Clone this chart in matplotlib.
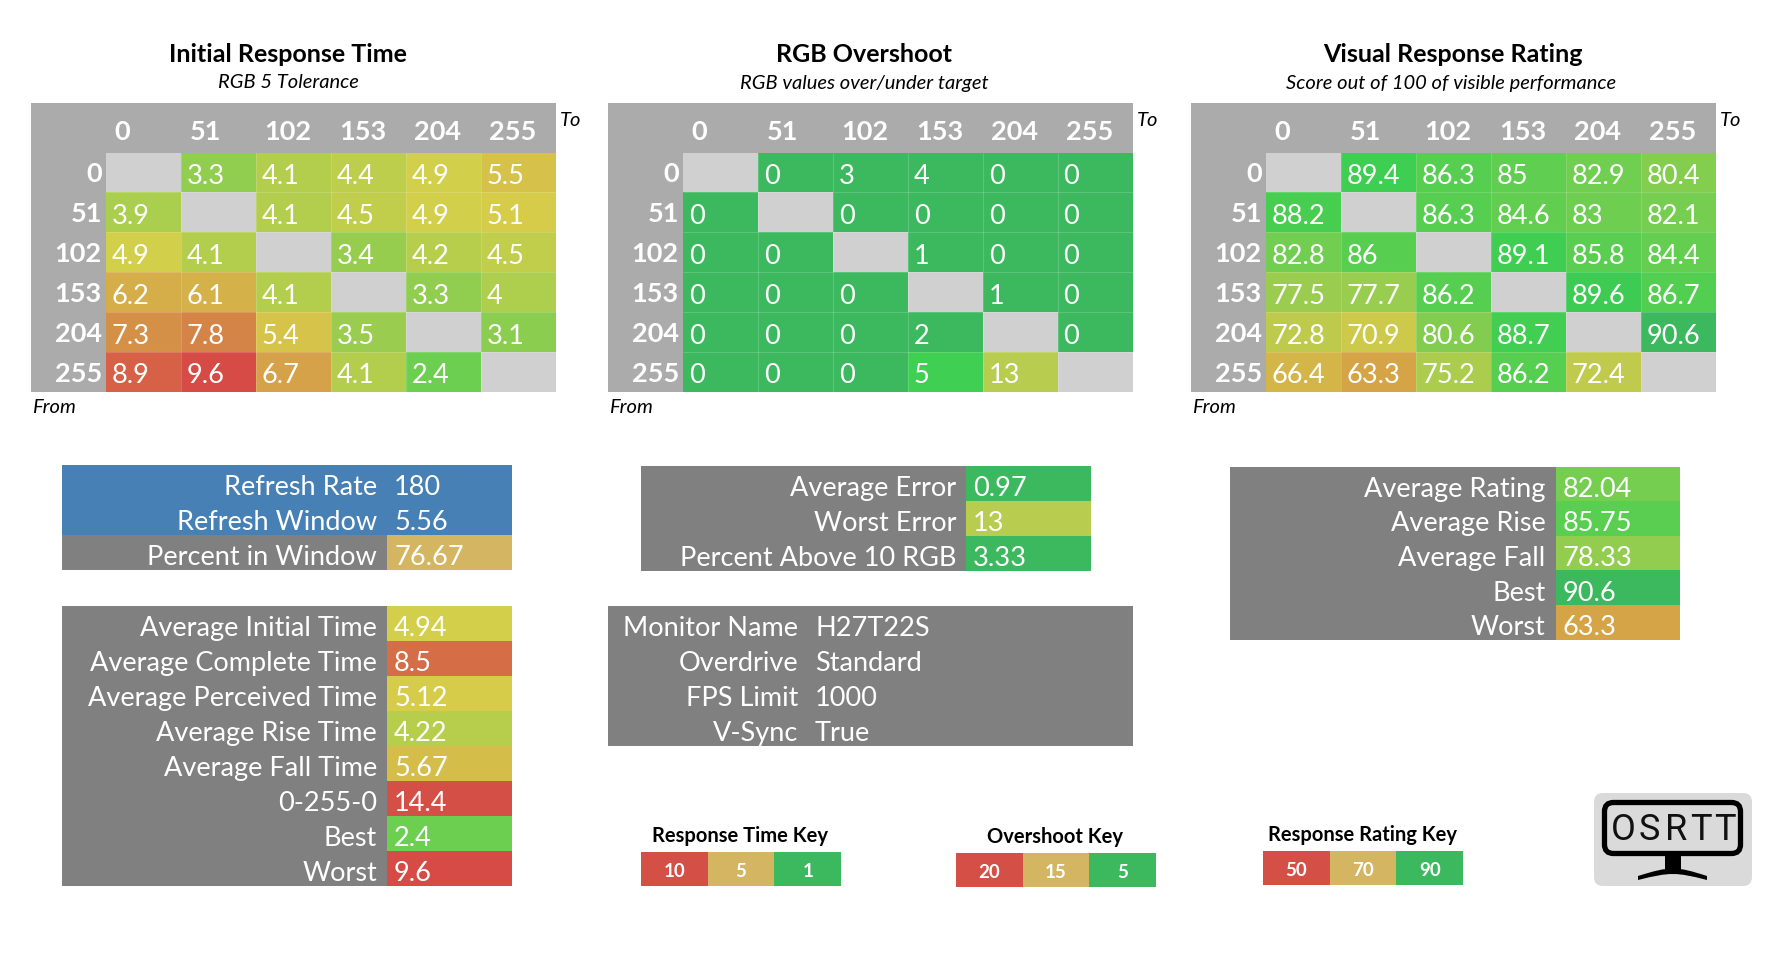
import numpy as np
import matplotlib as mpl
mpl.use('Agg')
import matplotlib.pyplot as plt
from matplotlib.colors import LinearSegmentedColormap, Normalize
from matplotlib.patches import Rectangle, FancyBboxPatch, PathPatch
from matplotlib.path import Path

plt.rcParams['font.family'] = ['Lato', 'DejaVu Sans']

levels = [0, 51, 102, 153, 204, 255]
nan = np.nan

initial_time = [[nan, 3.3, 4.1, 4.4, 4.9, 5.5],
                [3.9, nan, 4.1, 4.5, 4.9, 5.1],
                [4.9, 4.1, nan, 3.4, 4.2, 4.5],
                [6.2, 6.1, 4.1, nan, 3.3, 4],
                [7.3, 7.8, 5.4, 3.5, nan, 3.1],
                [8.9, 9.6, 6.7, 4.1, 2.4, nan]]
overshoot = [[nan, 0, 3, 4, 0, 0],
             [0, nan, 0, 0, 0, 0],
             [0, 0, nan, 1, 0, 0],
             [0, 0, 0, nan, 1, 0],
             [0, 0, 0, 2, nan, 0],
             [0, 0, 0, 5, 13, nan]]
rating = [[nan, 89.4, 86.3, 85, 82.9, 80.4],
          [88.2, nan, 86.3, 84.6, 83, 82.1],
          [82.8, 86, nan, 89.1, 85.8, 84.4],
          [77.5, 77.7, 86.2, nan, 89.6, 86.7],
          [72.8, 70.9, 80.6, 88.7, nan, 90.6],
          [66.4, 63.3, 75.2, 86.2, 72.4, nan]]

refresh_labels = ['Refresh Rate', 'Refresh Window']
refresh_values = [180, 5.56]
window_label = 'Percent in Window'
window_value = 76.67

time_labels = ['Average Initial Time', 'Average Complete Time', 'Average Perceived Time',
               'Average Rise Time', 'Average Fall Time', '0-255-0', 'Best', 'Worst']
time_values = [4.94, 8.5, 5.12, 4.22, 5.67, 14.4, 2.4, 9.6]

error_labels = ['Average Error', 'Worst Error', 'Percent Above 10 RGB']
error_values = [0.97, 13, 3.33]

monitor_labels = ['Monitor Name', 'Overdrive', 'FPS Limit', 'V-Sync']
monitor_values = ['H27T22S', 'Standard', '1000', 'True']

rating_labels = ['Average Rating', 'Average Rise', 'Average Fall', 'Best', 'Worst']
rating_values = [82.04, 85.75, 78.33, 90.6, 63.3]

time_key = [10, 5, 1]
overshoot_key = [20, 15, 5]
rating_key = [50, 70, 90]

RED = '#D44F46'
TAN = '#D4B562'
GREEN = '#3CB95F'
HEAD = '#ABABAB'
DARK = '#808080'
BLUE = '#4680B4'
DIAG = '#D0D0D0'


def make_scale(nodes):
    lo, hi = nodes[0][0], nodes[-1][0]
    cmap = LinearSegmentedColormap.from_list(
        'scale', [((v - lo) / (hi - lo), c) for v, c in nodes]).with_extremes(bad=DIAG)
    return cmap, Normalize(lo, hi, clip=True)


time_scale = make_scale([(1, GREEN), (1.25, '#3FCF52'), (2.4, '#6ECF50'), (3.3, '#93CD4F'), (5, '#D6CF4A'),
                         (6, '#D5B44A'), (7.8, '#D58347'), (9.6, '#D64B45'), (14.4, RED)])
over_scale = make_scale([(0, GREEN), (4, GREEN), (5, '#3FCF52'), (13, '#B8CC50'),
                         (15, '#D6C44C'), (20, RED)])
rate_scale = make_scale([(50, RED), (63.3, '#D5A546'), (70, '#D2C94B'), (77.5, '#9ACD4F'),
                         (86, '#58CE50'), (89.5, '#3DCE52'), (90.6, GREEN)])

fig = plt.figure(figsize=(17.84, 9.62), dpi=100)
ax = fig.add_axes([0, 0, 1, 1])
ax.set_xlim(0, 1784)
ax.set_ylim(962, 0)
ax.axis('off')

VALUE_SIZE = 19.5
HEAD_SIZE = 19.5


def rect(x0, y0, x1, y1, color):
    ax.add_patch(Rectangle((x0, y0), x1 - x0, y1 - y0, facecolor=color, edgecolor='none'))


def matrix(x0, x1, title, sub, title_x, sub_x, values, scale):
    top, head_bottom, bottom = 103.5, 153.5, 393
    col0 = x0 + 75.4
    rect(x0, top, x1, bottom, HEAD)
    xe = np.linspace(col0, x1, 7)
    ye = np.linspace(head_bottom, bottom, 7)
    ax.pcolormesh(xe, ye, np.ma.masked_invalid(values), cmap=scale[0], norm=scale[1],
                  edgecolors='none', antialiased=False)
    ax.vlines(xe[1:-1], head_bottom, bottom, color='w', alpha=0.16, linewidth=0.8)
    ax.hlines(ye[1:-1], col0, x1, color='w', alpha=0.16, linewidth=0.8)
    ax.text(title_x, 61.5, title, fontsize=18, fontweight='bold', ha='center', va='baseline')
    ax.text(sub_x, 88.5, sub, fontsize=14.5, style='italic', ha='center', va='baseline')
    ax.text(x1 + 3.5, 126, 'To', fontsize=14.5, style='italic', va='baseline')
    ax.text(x0 + 1, 413, 'From', fontsize=14.5, style='italic', va='baseline')
    for i, lev in enumerate(levels):
        ax.text(xe[i] + 8, 139.5, str(lev), color='w', fontsize=HEAD_SIZE, fontweight='bold', va='baseline')
        ax.text(col0 - 4.5, ye[i] + 29, str(lev), color='w', fontsize=HEAD_SIZE, fontweight='bold',
                ha='right', va='baseline')
        for j in range(6):
            if not np.isnan(values[i][j]):
                ax.text(xe[j] + 5.5, ye[i] + 30.4, f'{values[i][j]:g}', color='w',
                        fontsize=VALUE_SIZE, va='baseline')


def stats(x0, xdiv, x1, y0, y1, labels, values, scale=None, colors=None, base=DARK, val_pad=7, lab_pad=10):
    n = len(labels)
    ye = np.linspace(y0, y1, n + 1)
    rect(x0, y0, x1, y1, base)
    if scale is not None:
        ax.pcolormesh([xdiv, x1], ye, np.array(values, dtype=float).reshape(-1, 1),
                      cmap=scale[0], norm=scale[1])
    elif colors is not None:
        rect(xdiv, y0, x1, y1, colors)
    for i in range(n):
        base_y = ye[i] + (ye[1] - ye[0]) / 2 + 12
        ax.text(xdiv - lab_pad, base_y, labels[i], color='w', fontsize=VALUE_SIZE, ha='right', va='baseline')
        txt = values[i] if isinstance(values[i], str) else f'{values[i]:g}'
        ax.text(xdiv + val_pad, base_y, txt, color='w', fontsize=VALUE_SIZE, va='baseline')


def key(x0, x1, y0, title, title_x, labels):
    xe = np.linspace(x0, x1, 4)
    for i, lab in enumerate(labels):
        rect(xe[i], y0, xe[i + 1], y0 + 34, [RED, TAN, GREEN][i])
        ax.text((xe[i] + xe[i + 1]) / 2, y0 + 24, str(lab), color='w', fontsize=13.5,
                fontweight='bold', ha='center', va='baseline')
    ax.text(title_x, y0 - 10.5, title, fontsize=14.5, fontweight='bold', ha='center', va='baseline')


matrix(31, 556, 'Initial Response Time', 'RGB 5 Tolerance', 288, 288, initial_time, time_scale)
matrix(608, 1133, 'RGB Overshoot', 'RGB values over/under target', 864, 864, overshoot, over_scale)
matrix(1191, 1716, 'Visual Response Rating', 'Score out of 100 of visible performance', 1452.5, 1451.5, rating, rate_scale)

stats(62, 387, 512, 465.6, 535.6, refresh_labels, refresh_values, base=BLUE)
stats(62, 387, 512, 535.6, 570.6, [window_label], [window_value], colors=TAN)
stats(62, 387, 512, 606.6, 886.6, time_labels, time_values, scale=time_scale)
stats(641, 966, 1091, 466.6, 571.6, error_labels, error_values, scale=over_scale)
stats(608, 806, 1133, 606.6, 746.6, monitor_labels, monitor_values, val_pad=9, lab_pad=8)
stats(1230, 1555.5, 1680, 467.6, 640.6, rating_labels, rating_values, scale=rate_scale)

key(641, 841, 852.6, 'Response Time Key', 740, time_key)
key(956, 1156, 853.6, 'Overshoot Key', 1055, overshoot_key)
key(1263, 1463, 851.6, 'Response Rating Key', 1363, rating_key)

# logo, bottom right
ax.add_patch(FancyBboxPatch((1594, 794), 158, 93, boxstyle='round,pad=0,rounding_size=9',
                            facecolor='#DADADA', edgecolor='none'))
ax.add_patch(FancyBboxPatch((1604.5, 803.5), 136, 51, boxstyle='round,pad=0,rounding_size=9',
                            facecolor='none', edgecolor='k', linewidth=3.8))
rect(1665, 856, 1681, 873, 'k')
base_path = Path([(1638, 877), (1670, 867), (1676, 867), (1707, 877), (1707, 881), (1676, 873), (1670, 873), (1638, 881), (1638, 877)],
                 [Path.MOVETO, Path.CURVE4, Path.CURVE4, Path.CURVE4, Path.LINETO, Path.CURVE4, Path.CURVE4, Path.CURVE4, Path.CLOSEPOLY])
ax.add_patch(PathPatch(base_path, facecolor='k', edgecolor='none'))
for ch, cx in zip('OSRTT', [1623.5, 1649.5, 1676.5, 1701, 1725]):
    ax.text(cx, 840, ch, family='Roboto', fontsize=26, color='#111111', ha='center', va='baseline')

fig.savefig('out.png', dpi=100)
